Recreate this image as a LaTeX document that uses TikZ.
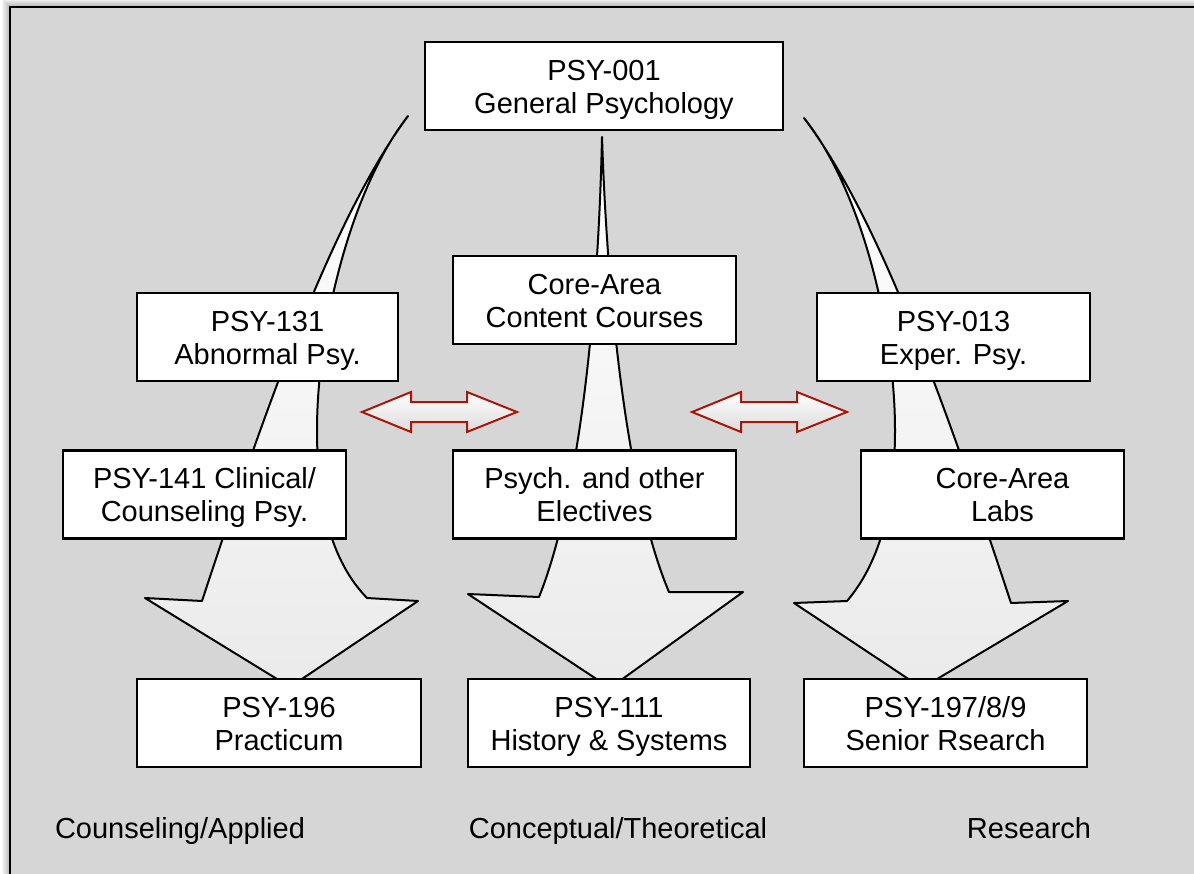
\documentclass[tikz,border=0pt]{standalone}
\usepackage{fontspec}
\setmainfont{Liberation Sans}
\definecolor{panelgray}{RGB}{214,214,214}
\definecolor{swapred}{RGB}{168,22,8}

\begin{document}
\begin{tikzpicture}[x=1pt,y=-1pt,font=\fontsize{29}{33}\selectfont,
	box/.style={draw,line width=2.2pt,fill=white,minimum height=88pt,inner sep=0pt,align=center,text height=55pt,text depth=1pt},
	flow/.style={draw,line width=2pt,line join=round,top color=white,bottom color=black!8},
	swap/.style={draw=swapred,line width=2pt,top color=white,bottom color=black!14}]
	%frame
	\useasboundingbox (0,0) rectangle (1194,873);
	\clip (0,0) rectangle (1194,873);
	\fill[white] (0,0) rectangle (1194,873);
	\foreach \i in {1,...,8}
	  \fill[black,opacity=0.035] (10-\i,7-\i) rectangle (1220,900); %shadow
	\filldraw[fill=panelgray,line width=2.5pt] (10,7) rectangle (1220,900);

	%big arrows
	\draw[flow] (408,116) .. controls (350,190) and (317,330) .. (317,430)
	  .. controls (317,500) and (330,560) .. (367,598) -- (418,601) -- (290,687)
	  -- (145,598) -- (202,601) .. controls (268,400) and (334,216) .. (408,116) -- cycle; %applied
	\draw[flow] (602,137) .. controls (608,320) and (630,500) .. (669,592) -- (743,592)
	  -- (610,688) -- (468,594) -- (539,597) .. controls (578,500) and (598,320) .. (602,137) -- cycle; %theory
	\draw[flow] (804,118) .. controls (862,190) and (895,330) .. (895,430)
	  .. controls (895,500) and (882,560) .. (847,601) -- (794,603) -- (922,688)
	  -- (1068,601) -- (1011,603) .. controls (944,400) and (878,216) .. (804,118) -- cycle; %research

	%courses
	\node[box,minimum width=358pt] (gen) at (604,86) {PSY-001\\General Psychology};
	\node[box,minimum width=261pt] (abn) at (267.5,337) {PSY-131\\Abnormal Psy.};
	\node[box,minimum width=283pt] (core) at (594.5,300) {Core-Area\\Content Courses};
	\node[box,minimum width=273pt] (exper) at (953.5,337) {PSY-013\\Exper. Psy.};
	\node[box,minimum width=283pt] (clin) at (204.5,494.5) {PSY-141 Clinical/\\Counseling Psy.};
	\node[box,minimum width=283pt] (elect) at (594.5,494.5) {Psych. and other\\Electives};
	\node[box,minimum width=263pt] (labs) at (992.5,494.5) {\hspace*{20pt}Core-Area\\\hspace*{20pt}Labs};
	\node[box,minimum width=284pt] (prac) at (279,723) {PSY-196\\Practicum};
	\node[box,minimum width=282pt] (hist) at (609,723) {PSY-111\\History \& Systems};
	\node[box,minimum width=283pt] (senior) at (945.5,723) {PSY-197/8/9\\Senior Rsearch};

	%double arrows
	\foreach \dx in {0,330}
	  \draw[swap,xshift=\dx pt] (362,412) -- (411,392) -- (411,402) -- (467,402) -- (467,392)
	    -- (517,412) -- (467,432) -- (467,422) -- (411,422) -- (411,432) -- cycle;

	%tracks
	\node[anchor=base] (applied) at (180,838) {Counseling/Applied};
	\node[anchor=base] (theory) at (618,838) {Conceptual/Theoretical};
	\node[anchor=base] (research) at (1029,838) {Research};
\end{tikzpicture}
\end{document}
